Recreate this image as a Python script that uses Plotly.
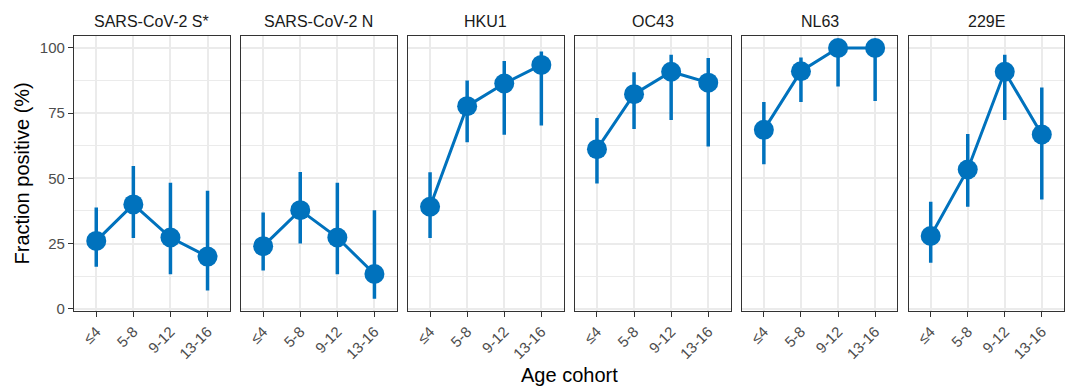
import plotly.graph_objects as go

panels = ["SARS-CoV-2 S*", "SARS-CoV-2 N", "HKU1", "OC43", "NL63", "229E"]
ages = ["≤4", "5-8", "9-12", "13-16"]

s_est = [26.0, 40.0, 27.3, 20.0]
s_lo = [16.1, 27.1, 13.2, 7.0]
s_hi = [38.8, 54.7, 48.3, 45.2]

n_est = [24.0, 37.8, 27.3, 13.3]
n_lo = [14.7, 25.0, 13.2, 3.8]
n_hi = [36.9, 52.4, 48.3, 37.8]

hku1_est = [39.1, 77.7, 86.4, 93.5]
hku1_lo = [27.1, 63.8, 66.7, 70.3]
hku1_hi = [52.3, 87.5, 95.0, 98.7]

oc43_est = [61.2, 82.3, 90.9, 86.7]
oc43_lo = [48.0, 68.9, 72.4, 62.2]
oc43_hi = [73.1, 90.7, 97.4, 96.2]

nl63_est = [68.6, 91.1, 100.0, 100.0]
nl63_lo = [55.4, 79.3, 85.2, 79.7]
nl63_hi = [79.3, 96.4, 100.0, 100.0]

e229_est = [27.9, 53.4, 90.9, 66.8]
e229_lo = [17.6, 39.1, 72.4, 41.9]
e229_hi = [41.0, 67.0, 97.4, 84.8]

y_ticks = [0, 25, 50, 75, 100]

series = [
    (s_est, s_lo, s_hi),
    (n_est, n_lo, n_hi),
    (hku1_est, hku1_lo, hku1_hi),
    (oc43_est, oc43_lo, oc43_hi),
    (nl63_est, nl63_lo, nl63_hi),
    (e229_est, e229_lo, e229_hi),
]

COLOR = "#0072BD"
FONT = "Liberation Sans, Arial, sans-serif"
W, H = 1068, 386
ML, MR, MT, MB = 74, 4, 36, 75
plot_w = W - ML - MR
panel_w = 155.8
step = 166.9

fig = go.Figure()
layout = {}
for i, (est, lo, hi) in enumerate(series):
    k = "" if i == 0 else str(i + 1)
    plus = [h - e for h, e in zip(hi, est)]
    minus = [e - l for e, l in zip(est, lo)]
    fig.add_trace(go.Scatter(
        x=ages, y=est, mode="lines+markers",
        line=dict(color=COLOR, width=3),
        marker=dict(color=COLOR, size=20),
        error_y=dict(type="data", array=plus, arrayminus=minus, visible=True,
                     color=COLOR, thickness=3.5, width=0),
        xaxis="x" + k, yaxis="y" + k, showlegend=False, cliponaxis=False,
    ))
    x0 = (i * step) / plot_w
    x1 = (i * step + panel_w) / plot_w
    layout["xaxis" + k] = dict(
        domain=[x0, min(x1, 1.0)], type="category", categoryorder="array",
        categoryarray=ages, range=[-0.6, 3.6], anchor="y" + k,
        showgrid=True, gridcolor="#EBEBEB", gridwidth=1.5,
        showline=True, mirror=True, linecolor="#333333", linewidth=1.3,
        ticks="outside", ticklen=5, tickcolor="#333333", tickwidth=1.3,
        tickangle=-45, tickfont=dict(family=FONT, size=15, color="#4D4D4D"),
        zeroline=False, fixedrange=True,
    )
    ydict = dict(
        domain=[0, 1], range=[-0.88, 104.6], anchor="x" + k,
        tickvals=y_ticks, showgrid=True, gridcolor="#EBEBEB", gridwidth=1.5,
        minor=dict(showgrid=True, dtick=12.5, tick0=0, gridcolor="#EBEBEB", gridwidth=0.8),
        showline=True, mirror=True, linecolor="#333333", linewidth=1.3,
        zeroline=False, fixedrange=True,
        tickfont=dict(family=FONT, size=15, color="#4D4D4D"),
    )
    if i == 0:
        ydict.update(ticks="outside", ticklen=5, tickcolor="#333333", tickwidth=1.3,
                     showticklabels=True)
    else:
        ydict.update(ticks="", showticklabels=False)
    layout["yaxis" + k] = ydict

annotations = []
for i, name in enumerate(panels):
    cx = (i * step + panel_w / 2) / plot_w
    annotations.append(dict(
        text=name, x=cx, y=1 + (MT - 21) / (H - MT - MB), xref="paper", yref="paper",
        xanchor="center", yanchor="middle", showarrow=False,
        font=dict(family=FONT, size=16, color="#1A1A1A"),
    ))
annotations.append(dict(
    text="Age cohort", x=0.5, y=-64 / (H - MT - MB), xref="paper", yref="paper",
    xanchor="center", yanchor="middle", showarrow=False,
    font=dict(family=FONT, size=20, color="#000000"),
))
annotations.append(dict(
    text="Fraction positive (%)", x=(21 - ML) / plot_w, y=0.5, xref="paper", yref="paper",
    xanchor="center", yanchor="middle", showarrow=False, textangle=-90,
    font=dict(family=FONT, size=20, color="#000000"),
))

fig.update_layout(
    width=W, height=H,
    margin=dict(l=ML, r=MR, t=MT, b=MB, pad=0),
    paper_bgcolor="white", plot_bgcolor="white",
    annotations=annotations,
    font=dict(family=FONT),
    **layout,
)

fig.write_html("out.html", config={"displayModeBar": False})
